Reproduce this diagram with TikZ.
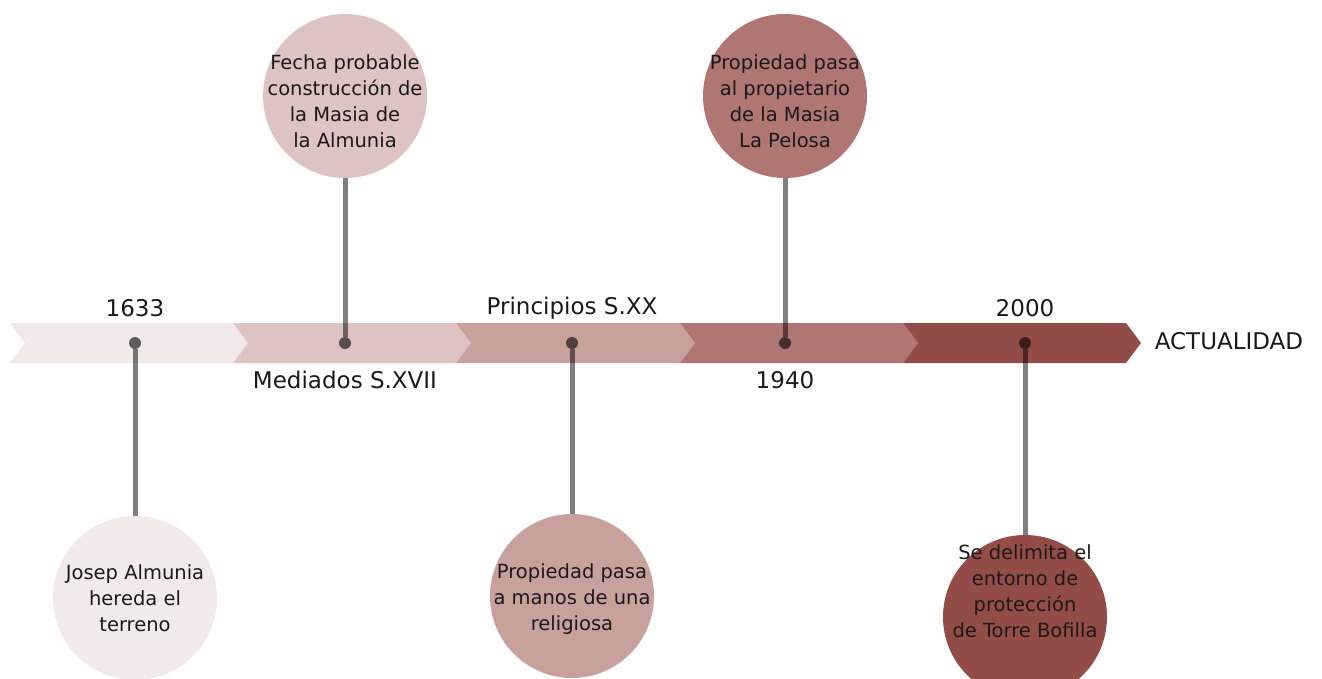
\documentclass[tikz,border=0pt]{standalone}
\usepackage{fontspec}
\setmainfont{DejaVu Sans}
\usepackage{tikz}
\usetikzlibrary{positioning}
\definecolor{tone1}{HTML}{F2EAE8}
\definecolor{tone2}{HTML}{DDC3C1}
\definecolor{tone3}{HTML}{C8A19D}
\definecolor{tone4}{HTML}{AF7673}
\definecolor{tone5}{HTML}{934C48}
\definecolor{ink}{HTML}{1A1A1A}
\tikzset{
    event/.style={
           circle,
           minimum size=164pt,
           inner sep=0pt,
           },
    note/.style={
           align=center,
           inner sep=0pt,
           text=ink,
           font=\fontsize{19.5}{26}\selectfont
           },
    stamp/.style={
              inner sep=2pt,
              text=ink,
              font=\fontsize{23}{26}\selectfont
                  } ,
    point/.style={
                  circle,
                  minimum size=12pt,
                  inner sep=0pt,
                  fill=black, fill opacity=.6
                  },
    stem/.style={
                  line width=5pt,
                  draw opacity=.5
                  },
}
\begin{document}
\begin{tikzpicture}[x=1pt, y=-1pt, on grid]
   \useasboundingbox (0,0) rectangle (1322,678);
   \clip (0,0) rectangle (1322,678);
   % chevron band
   \fill[tone1] (10,323) -- (233,323) -- (248,343) -- (233,363) -- (10,363) -- (25,343) -- cycle;
   \fill[tone2] (233,323) -- (456,323) -- (471,343) -- (456,363) -- (233,363) -- (248,343) -- cycle;
   \fill[tone3] (456,323) -- (680,323) -- (695,343) -- (680,363) -- (456,363) -- (471,343) -- cycle;
   \fill[tone4] (680,323) -- (903,323) -- (918,343) -- (903,363) -- (680,363) -- (695,343) -- cycle;
   \fill[tone5] (903,323) -- (1126,323) -- (1141,343) -- (1126,363) -- (903,363) -- (918,343) -- cycle;

   \node[point] (p1) at (135,343) {};
   \node[point] (p2) at (345,343) {};
   \node[point] (p3) at (572,343) {};
   \node[point] (p4) at (785,343) {};
   \node[point] (p5) at (1025,343) {};

   \node[event, fill=tone1] (c1) [below=255pt of p1] {};
   \node[event, fill=tone2] (c2) [above=247pt of p2] {};
   \node[event, fill=tone3] (c3) [below=253pt of p3] {};
   \node[event, fill=tone4] (c4) [above=247pt of p4] {};
   \node[event, fill=tone5] (c5) [below=274pt of p5] {};

   \node[note] (t1) [below=0pt of c1] {Josep Almunia\\hereda el\\terreno};
   \node[note] (t2) [below=5pt of c2] {Fecha probable\\construcción de\\la Masia de\\la Almunia};
   \node[note] (t3) [below=3pt of c3] {Propiedad pasa\\a manos de una\\religiosa};
   \node[note] (t4) [below=5pt of c4] {Propiedad pasa\\al propietario\\de la Masia\\La Pelosa};
   \node[note] (t5) [above=26pt of c5] {Se delimita el\\entorno de\\protección\\de Torre Bofilla};

   \node[stamp] (s1) [above=35pt of p1] {1633};
   \node[stamp] (s2) [below=37pt of p2] {Mediados S.XVII};
   \node[stamp] (s3) [above=35pt of p3] {Principios S.XX};
   \node[stamp] (s4) [below=37pt of p4] {1940};
   \node[stamp] (s5) [above=35pt of p5] {2000};
   \node[stamp] (s6) at (1229,341) {ACTUALIDAD};

   \path[stem]
    (p1) edge (c1)
    (p2) edge (c2)
    (p3) edge (c3)
    (p4) edge (c4)
    (p5) edge (c5)
       ;
\end{tikzpicture}
\end{document}
